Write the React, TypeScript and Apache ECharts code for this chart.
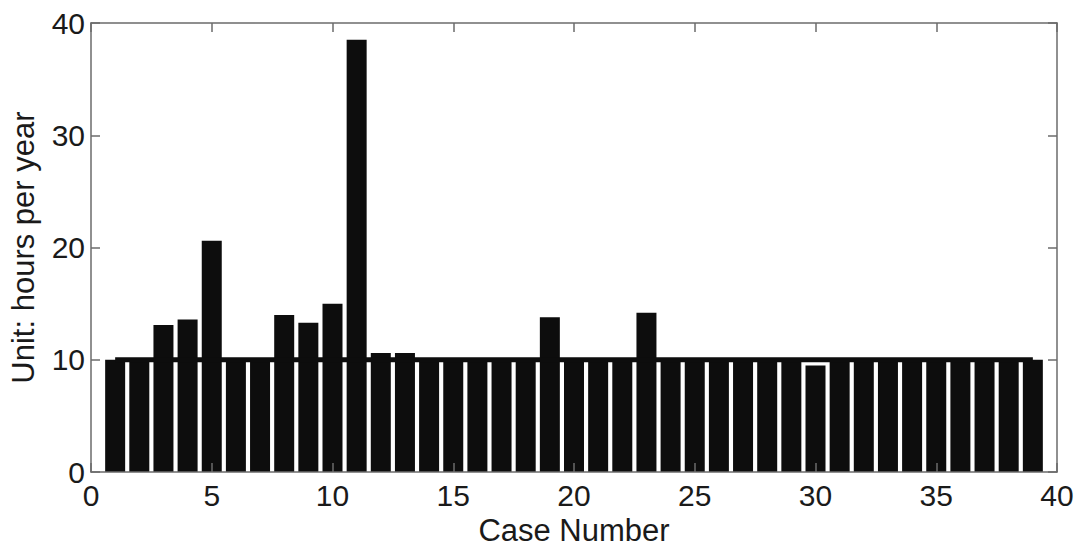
import React, { useEffect, useRef } from "react";
import * as echarts from "echarts";

const caseNumbers = [
  1, 2, 3, 4, 5, 6, 7, 8, 9, 10, 11, 12, 13, 14, 15, 16, 17, 18, 19, 20,
  21, 22, 23, 24, 25, 26, 27, 28, 29, 30, 31, 32, 33, 34, 35, 36, 37, 38, 39,
];
const hoursPerYear = [
  10.0, 10.0, 13.1, 13.6, 20.6, 10.0, 10.0, 14.0, 13.3, 15.0, 38.5, 10.6, 10.6,
  10.0, 10.0, 10.0, 10.0, 10.0, 13.8, 10.0, 10.0, 10.0, 14.2, 10.0, 10.0, 10.0,
  10.0, 10.0, 10.0, 9.5, 10.0, 10.0, 10.0, 10.0, 10.0, 10.0, 10.0, 10.0, 10.0,
];
const baselineX = [1, 39];
const baselineY = [10, 10];
const xTicks = [0, 5, 10, 15, 20, 25, 30, 35, 40];
const yTicks = [0, 10, 20, 30, 40];

export default function App() {
  const ref = useRef<HTMLDivElement>(null);
  useEffect(() => {
    if (!ref.current) return;
    const chart = echarts.init(ref.current, null, { renderer: "svg" });
    const axisColor = "#6b6b6b";
    const font = "Liberation Sans, Arial, Helvetica, sans-serif";
    const commonX = {
      type: "value" as const,
      min: xTicks[0],
      max: xTicks[xTicks.length - 1],
      interval: 5,
      axisLine: { show: true, onZero: false, lineStyle: { color: axisColor, width: 1.5 } },
      axisTick: { show: true, inside: true, length: 9, lineStyle: { color: axisColor, width: 1.5 } },
      splitLine: { show: false },
      z: 10,
    };
    const commonY = {
      type: "value" as const,
      min: yTicks[0],
      max: yTicks[yTicks.length - 1],
      interval: 10,
      axisLine: { show: true, onZero: false, lineStyle: { color: axisColor, width: 1.5 } },
      axisTick: { show: true, inside: true, length: 9, lineStyle: { color: axisColor, width: 1.5 } },
      splitLine: { show: false },
      z: 10,
    };
    chart.setOption({
      animation: false,
      backgroundColor: "#ffffff",
      grid: { left: 91, right: 21, top: 23, bottom: 71, containLabel: false },
      xAxis: [
        {
          ...commonX,
          position: "bottom",
          name: "Case Number",
          nameLocation: "middle",
          nameGap: 38,
          nameTextStyle: { color: "#1a1a1a", fontSize: 31, fontFamily: font },
          axisLabel: { color: "#1a1a1a", fontSize: 30, fontFamily: font, margin: 8 },
        },
        {
          ...commonX,
          position: "top",
          axisLabel: { show: false },
        },
      ],
      yAxis: [
        {
          ...commonY,
          position: "left",
          name: "Unit: hours per year",
          nameLocation: "middle",
          nameGap: 52,
          nameTextStyle: { color: "#1a1a1a", fontSize: 31, fontFamily: font },
          axisLabel: { color: "#1a1a1a", fontSize: 30, fontFamily: font, margin: 6 },
        },
        {
          ...commonY,
          position: "right",
          axisLabel: { show: false },
        },
      ],
      series: [
        {
          type: "bar",
          xAxisIndex: 0,
          yAxisIndex: 0,
          data: caseNumbers.map((c, i) => [c, hoursPerYear[i]]),
          barWidth: 20,
          itemStyle: { color: "#0d0d0d" },
          z: 2,
        },
        {
          type: "line",
          xAxisIndex: 0,
          yAxisIndex: 0,
          data: baselineX.map((x, i) => [x, baselineY[i]]),
          symbol: "none",
          lineStyle: { color: "#0d0d0d", width: 5 },
          z: 5,
        },
      ],
    });
    return () => chart.dispose();
  }, []);
  return (
    <div
      ref={ref}
      style={{ position: "fixed", left: 0, top: 0, width: 1078, height: 551, background: "#fff" }}
    />
  );
}
